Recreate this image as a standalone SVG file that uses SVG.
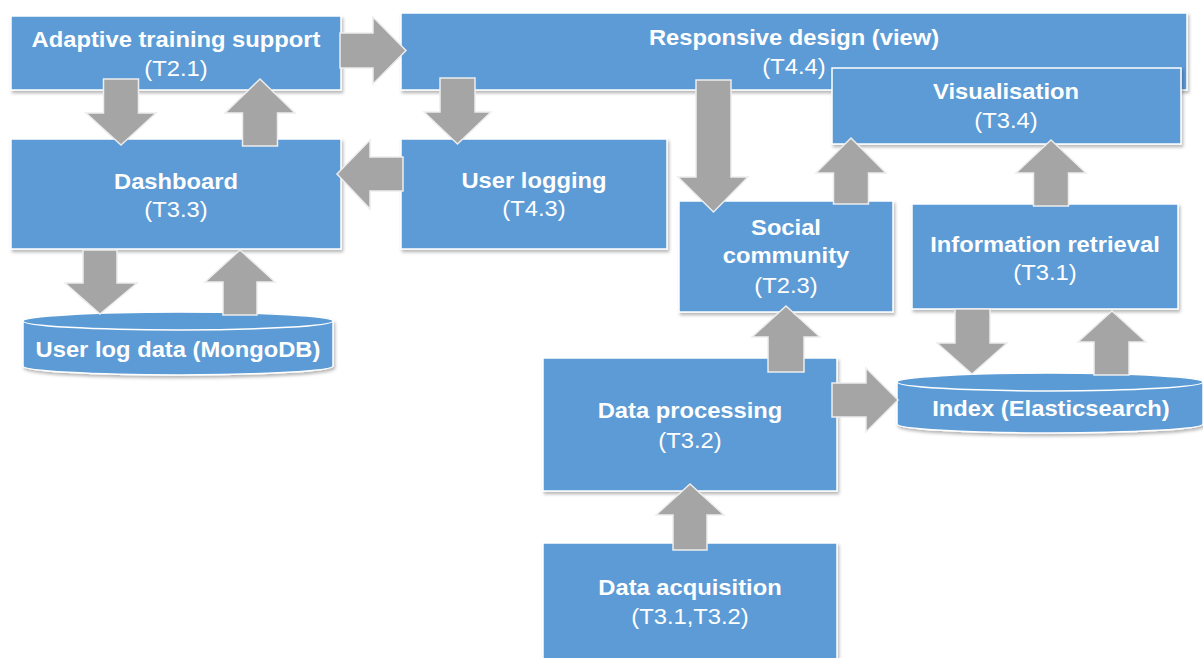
<svg xmlns="http://www.w3.org/2000/svg" width="1203" height="658" viewBox="0 0 1203 658">
  <defs>
    <filter id="shadow" x="-5%" y="-5%" width="110%" height="120%">
      <feDropShadow dx="1.5" dy="2.5" stdDeviation="1.5" flood-color="#000" flood-opacity="0.28"/>
    </filter>
    <style>
      .box { fill: #5B9BD5; stroke: #FFFFFF; stroke-width: 1.5; filter: url(#shadow); }
      .cyl { fill: #5B9BD5; stroke: #FFFFFF; stroke-width: 1.5; }
      .arrow { fill: #A5A5A5; stroke: #EDEDED; stroke-width: 1.5; stroke-linejoin: miter; }
      .t { font-family: "Liberation Sans", Arial, sans-serif; font-size: 22px; fill: #FFFFFF; text-anchor: middle; }
      .b { font-weight: bold; }
    </style>
  </defs>

  <rect width="1203" height="658" fill="#FFFFFF"/>

  <!-- Nodes -->
  <g id="adaptive-training-support">
    <rect class="box" x="11" y="16" width="330" height="74"/>
    <text class="t b" transform="matrix(1.08 0 0 1 176 47)">Adaptive training support</text>
    <text class="t" transform="matrix(1.08 0 0 1 176 76)">(T2.1)</text>
  </g>

  <g id="responsive-design">
    <rect class="box" x="401" y="13" width="786" height="77"/>
    <text class="t b" transform="matrix(1.08 0 0 1 794 45)">Responsive design (view)</text>
    <text class="t" transform="matrix(1.08 0 0 1 794 74)">(T4.4)</text>
  </g>

  <g id="visualisation">
    <rect class="box" x="832" y="68" width="349" height="76"/>
    <text class="t b" transform="matrix(1.08 0 0 1 1006 99)">Visualisation</text>
    <text class="t" transform="matrix(1.08 0 0 1 1006 128)">(T3.4)</text>
  </g>

  <g id="dashboard">
    <rect class="box" x="11" y="139" width="330" height="110"/>
    <text class="t b" transform="matrix(1.08 0 0 1 176 189)">Dashboard</text>
    <text class="t" transform="matrix(1.08 0 0 1 176 217)">(T3.3)</text>
  </g>

  <g id="user-logging">
    <rect class="box" x="401" y="139" width="266" height="110"/>
    <text class="t b" transform="matrix(1.08 0 0 1 534 188)">User logging</text>
    <text class="t" transform="matrix(1.08 0 0 1 534 216)">(T4.3)</text>
  </g>

  <g id="social-community">
    <rect class="box" x="679" y="201" width="214" height="111"/>
    <text class="t b" transform="matrix(1.08 0 0 1 786 235)">Social</text>
    <text class="t b" transform="matrix(1.08 0 0 1 786 263)">community</text>
    <text class="t" transform="matrix(1.08 0 0 1 786 293)">(T2.3)</text>
  </g>

  <g id="information-retrieval">
    <rect class="box" x="912" y="204" width="266" height="105"/>
    <text class="t b" transform="matrix(1.08 0 0 1 1045 252)">Information retrieval</text>
    <text class="t" transform="matrix(1.08 0 0 1 1045 280)">(T3.1)</text>
  </g>

  <g id="user-log-data">
    <g filter="url(#shadow)">
      <path class="cyl" d="M23,321 L23,366 A155,9 0 0 0 333,366 L333,321 A155,9 0 0 0 23,321 Z"/>
    </g>
    <ellipse class="cyl" cx="178" cy="321" rx="155" ry="9"/>
    <text class="t b" transform="matrix(1.08 0 0 1 178 357)">User log data (MongoDB)</text>
  </g>

  <g id="index-elasticsearch">
    <g filter="url(#shadow)">
      <path class="cyl" d="M897,382 L897,424 A153,9 0 0 0 1203,424 L1203,382 A153,9 0 0 0 897,382 Z"/>
    </g>
    <ellipse class="cyl" cx="1050" cy="382" rx="153" ry="9"/>
    <text class="t b" transform="matrix(1.08 0 0 1 1051 416)">Index (Elasticsearch)</text>
  </g>

  <g id="data-processing">
    <rect class="box" x="543" y="358" width="294" height="133"/>
    <text class="t b" transform="matrix(1.08 0 0 1 690 418)">Data processing</text>
    <text class="t" transform="matrix(1.08 0 0 1 690 448)">(T3.2)</text>
  </g>

  <g id="data-acquisition">
    <rect class="box" x="543" y="543" width="294" height="125"/>
    <text class="t b" transform="matrix(1.08 0 0 1 690 595)">Data acquisition</text>
    <text class="t" transform="matrix(1.08 0 0 1 690 624)">(T3.1,T3.2)</text>
  </g>

  <!-- Connectors: block arrows -->
  <g id="connectors">
    <!-- Adaptive training support -> Dashboard -->
    <polygon class="arrow" points="103.5,79 138.5,79 138.5,113 156,113 121,145 86,113 103.5,113"/>
    <!-- Dashboard -> Adaptive training support -->
    <polygon class="arrow" points="242.5,146 277.5,146 277.5,113 295,113 260,79 225,113 242.5,113"/>
    <!-- Dashboard -> User log data -->
    <polygon class="arrow" points="83,250 117,250 117,283 137,283 100,314 65,283 83,283"/>
    <!-- User log data -> Dashboard -->
    <polygon class="arrow" points="223,315 257,315 257,282 275,282 240,250 205,282 223,282"/>
    <!-- Adaptive training support -> Responsive design -->
    <polygon class="arrow" points="340,33 373,33 373,17 406,50.5 373,84 373,68 340,68"/>
    <!-- Responsive design -> User logging -->
    <polygon class="arrow" points="440,78 475,78 475,112 491,112 457.5,144 424,112 440,112"/>
    <!-- User logging -> Dashboard -->
    <polygon class="arrow" points="403,157 370,157 370,140 337,174 370,209 370,191 403,191"/>
    <!-- Responsive design -> Social community -->
    <polygon class="arrow" points="696,80 731,80 731,177 748,177 713.5,212 678,177 696,177"/>
    <!-- Social community -> Visualisation -->
    <polygon class="arrow" points="833.5,204 868.5,204 868.5,173 886,173 851,138 816,173 833.5,173"/>
    <!-- Information retrieval -> Visualisation -->
    <polygon class="arrow" points="1033.5,206 1068.5,206 1068.5,173 1086,173 1051,140 1016,173 1033.5,173"/>
    <!-- Information retrieval -> Index -->
    <polygon class="arrow" points="955,309 990,309 990,343 1007,343 972,374 937,343 955,343"/>
    <!-- Index -> Information retrieval -->
    <polygon class="arrow" points="1094,375 1129,375 1129,342 1146,342 1112,311 1078,342 1094,342"/>
    <!-- Data processing -> Social community -->
    <polygon class="arrow" points="768,372 804,372 804,337 820,337 786,306 752,337 768,337"/>
    <!-- Data processing -> Index -->
    <polygon class="arrow" points="832,383 866,383 866,368 898,400 866,432 866,417 832,417"/>
    <!-- Data acquisition -> Data processing -->
    <polygon class="arrow" points="673,550 707,550 707,515 724,515 690,484 656,515 673,515"/>
  </g>
</svg>
